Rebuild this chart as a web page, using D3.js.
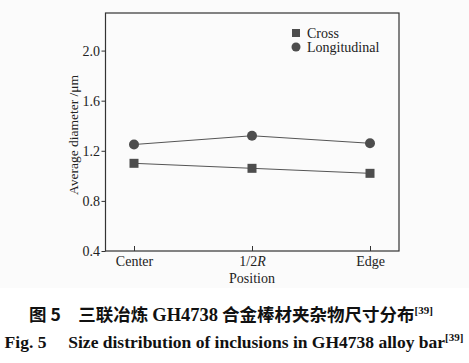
<!DOCTYPE html>
<html><head><meta charset="utf-8">
<script src="https://cdn.jsdelivr.net/npm/d3@7"></script>
<style>body{margin:0;background:#fff}svg{display:block}</style>
</head><body>
<script>
const categories = ["Center", "1/2R", "Edge"];
const crossValues = [1.10, 1.06, 1.02];
const longitudinalValues = [1.25, 1.32, 1.26];
const yTicks = [0.4, 0.8, 1.2, 1.6, 2.0];
const seriesNames = ["Cross", "Longitudinal"];

const W = 469, H = 363;
const m = {left: 105.5, right: 399, top: 13, bottom: 251};
const svg = d3.select("body").append("svg").attr("width", W).attr("height", H);
svg.append("rect").attr("width", W).attr("height", 288).attr("fill", "#fbfbfb");

const x = d3.scalePoint().domain(categories).range([134, 370]);
const y = d3.scaleLinear().domain([0.4, 2.3]).range([m.bottom, m.top]);
const serif = "'Liberation Serif','Times New Roman',serif";

svg.append("rect").attr("x", m.left).attr("y", m.top)
  .attr("width", m.right - m.left).attr("height", m.bottom - m.top)
  .attr("fill", "none").attr("stroke", "#333").attr("stroke-width", 1.2);

const yAxis = svg.append("g").attr("transform", `translate(${m.left},0)`)
  .call(d3.axisLeft(y).tickValues(yTicks).tickFormat(d3.format(".1f")).tickSize(4).tickPadding(1.5));
yAxis.select(".domain").remove();
yAxis.selectAll("line").attr("stroke", "#333");
yAxis.selectAll("text").attr("font-family", serif).attr("font-size", 14).attr("fill", "#222");

const xAxis = svg.append("g").attr("transform", `translate(0,${m.bottom})`)
  .call(d3.axisBottom(x).tickSize(-5).tickPadding(6).tickFormat(() => ""));
xAxis.select(".domain").remove();
xAxis.selectAll("line").attr("stroke", "#333");
xAxis.selectAll(".tick").append("text")
  .attr("y", 15).attr("text-anchor", "middle")
  .attr("font-family", serif).attr("font-size", 14).attr("fill", "#222")
  .each(function(d){
    const t = d3.select(this);
    if (d === "1/2R") { t.append("tspan").text("1/2"); t.append("tspan").attr("font-style","italic").text("R"); }
    else t.text(d);
  });

svg.append("text").attr("x", 252).attr("y", 283).attr("text-anchor", "middle")
  .attr("font-family", serif).attr("font-size", 14).attr("fill", "#222").text("Position");
svg.append("text").attr("transform", "translate(78,135) rotate(-90)").attr("text-anchor", "middle")
  .attr("font-family", serif).attr("font-size", 13.5).attr("fill", "#222").text("Average diameter /μm");

const line = d3.line().x((d, i) => x(categories[i])).y(d => y(d));
[crossValues, longitudinalValues].forEach(vals => {
  svg.append("path").datum(vals).attr("d", line).attr("fill", "none").attr("stroke", "#555").attr("stroke-width", 1);
});
svg.selectAll(".sq").data(crossValues).enter().append("rect")
  .attr("x", (d, i) => x(categories[i]) - 4.5).attr("y", d => y(d) - 4.5)
  .attr("width", 9).attr("height", 9).attr("fill", "#4d4d4d");
svg.selectAll(".ci").data(longitudinalValues).enter().append("circle")
  .attr("cx", (d, i) => x(categories[i])).attr("cy", d => y(d)).attr("r", 5).attr("fill", "#4d4d4d");

svg.append("rect").attr("x", 292).attr("y", 29).attr("width", 8).attr("height", 8).attr("fill", "#4d4d4d");
svg.append("circle").attr("cx", 296).attr("cy", 47).attr("r", 4.5).attr("fill", "#4d4d4d");
svg.append("text").attr("x", 307).attr("y", 37.5).attr("font-family", serif).attr("font-size", 14).attr("fill", "#222").text(seriesNames[0]);
svg.append("text").attr("x", 307).attr("y", 52).attr("font-family", serif).attr("font-size", 14).attr("fill", "#222").text(seriesNames[1]);

const cn = svg.append("text").attr("x", 231).attr("y", 321).attr("text-anchor", "middle")
  .attr("font-family", "'Noto Sans CJK SC',sans-serif").attr("font-weight", "bold").attr("font-size", 17.5).attr("fill", "#111");
cn.append("tspan").text("图 5\u3000三联冶炼 ");
cn.append("tspan").attr("font-family", serif).attr("font-size", 18.5).text("GH4738");
cn.append("tspan").text(" 合金棒材夹杂物尺寸分布");
cn.append("tspan").attr("font-family", serif).attr("font-size", 11).attr("dy", -7).text("[39]");

const en = svg.append("text").attr("x", 234).attr("y", 348).attr("text-anchor", "middle")
  .attr("font-family", serif).attr("font-weight", "bold").attr("font-size", 17.5).attr("fill", "#111");
en.append("tspan").text("Fig. 5\u2003 Size distribution of inclusions in GH4738 alloy bar");
en.append("tspan").attr("font-size", 11).attr("dy", -7).text("[39]");
</script>
</body></html>
